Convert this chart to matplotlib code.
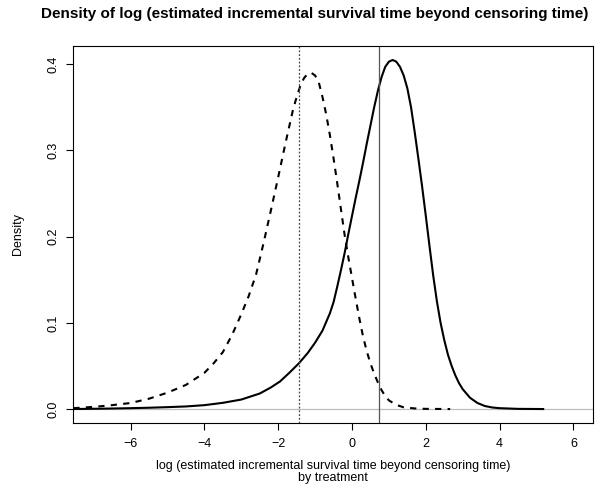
import matplotlib
matplotlib.use("Agg")
import matplotlib.pyplot as plt

plt.rcParams['font.family'] = ['Liberation Sans', 'DejaVu Sans']

# density of the dashed group
dashed_x = [-7.55, -7.0, -6.5, -6.0, -5.5, -5.0, -4.5, -4.0, -3.75, -3.5, -3.25,
            -3.0, -2.8, -2.6, -2.4, -2.2, -2.0, -1.8, -1.6, -1.5, -1.4, -1.3, -1.2,
            -1.1, -1.0, -0.9, -0.8, -0.7, -0.6, -0.5, -0.4, -0.3, -0.2, -0.1, 0.0,
            0.1, 0.2, 0.3, 0.4, 0.5, 0.6, 0.7, 0.8, 0.9, 1.0, 1.2, 1.4, 1.7, 2.0, 2.66]
dashed_y = [0.001, 0.0025, 0.0045, 0.007, 0.012, 0.019, 0.028, 0.042, 0.053, 0.066,
            0.086, 0.110, 0.131, 0.156, 0.192, 0.230, 0.269, 0.309, 0.347, 0.362,
            0.375, 0.384, 0.389, 0.390, 0.387, 0.379, 0.362, 0.342, 0.318, 0.291,
            0.262, 0.232, 0.202, 0.176, 0.152, 0.128, 0.105, 0.084, 0.067, 0.053,
            0.041, 0.031, 0.022, 0.015, 0.010, 0.0048, 0.002, 0.0007, 0.0002, 0.0]

# density of the solid group
solid_x = [-7.56, -7.0, -6.5, -6.0, -5.5, -5.0, -4.5, -4.0, -3.5, -3.0, -2.5, -2.2,
           -1.95, -1.7, -1.44, -1.2, -1.0, -0.8, -0.6, -0.5, -0.4, -0.3, -0.2, -0.1,
           0.0, 0.1, 0.2, 0.3, 0.4, 0.5, 0.6, 0.7, 0.8, 0.9, 1.0, 1.1, 1.2, 1.3, 1.4,
           1.5, 1.6, 1.7, 1.8, 1.9, 2.0, 2.1, 2.2, 2.3, 2.4, 2.5, 2.6, 2.7, 2.8, 2.9,
           3.0, 3.2, 3.4, 3.6, 3.8, 4.0, 4.5, 5.18]
solid_y = [0.0, 0.0003, 0.0006, 0.001, 0.0015, 0.0022, 0.003, 0.0045, 0.0072, 0.011,
           0.018, 0.025, 0.032, 0.042, 0.053, 0.065, 0.077, 0.091, 0.111, 0.124,
           0.142, 0.161, 0.181, 0.203, 0.224, 0.245, 0.265, 0.286, 0.308, 0.329,
           0.350, 0.369, 0.385, 0.397, 0.403, 0.405, 0.403, 0.397, 0.387, 0.372,
           0.350, 0.321, 0.290, 0.258, 0.224, 0.189, 0.155, 0.125, 0.100, 0.080,
           0.063, 0.050, 0.039, 0.030, 0.023, 0.013, 0.007, 0.0035, 0.0018, 0.001,
           0.0002, 0.0]

# vertical reference lines (medians)
median_dashed = -1.445
median_solid = 0.73

xticks = [-6, -4, -2, 0, 2, 4, 6]
yticks = [0.0, 0.1, 0.2, 0.3, 0.4]

fig = plt.figure(figsize=(6, 4.99), dpi=100)
ax = fig.add_axes([73/600, 1-423/499, 520/600, 377/499])

ax.axhline(0, color='#bebebe', lw=0.9)
ax.plot(solid_x, solid_y, color='black', lw=1.5)
ax.plot(dashed_x, dashed_y, color='black', lw=1.5, dashes=(3, 3))
ax.axvline(median_solid, color='#555555', lw=0.9)
ax.axvline(median_dashed, color='#444444', lw=0.9, dashes=(1.5, 1.5))

ax.set_xlim(-7.56, 6.53)
ax.set_ylim(-0.0162, 0.4212)
ax.set_xticks(xticks)
ax.set_xticklabels([str(t).replace('-', '\u2212') for t in xticks])
ax.set_yticks(yticks)
ax.set_yticklabels(['%.1f' % t for t in yticks], rotation=90, va='center')
ax.tick_params(direction='out', length=5, width=0.8, labelsize=9, pad=6)
ax.tick_params(axis='y', pad=5)
for s in ax.spines.values():
    s.set_linewidth(0.8)

fig.text(315/600, 1-14/499, 'Density of log (estimated incremental survival time beyond censoring time)',
         ha='center', va='center', fontsize=11, fontweight='bold')
fig.text(333/600, 1-472/499, 'log (estimated incremental survival time beyond censoring time)\nby treatment',
         ha='center', va='center', fontsize=9, linespacing=1.05)
fig.text(18/600, 1-234/499, 'Density', rotation=90, ha='center', va='center', fontsize=9)

plt.savefig('out.png', dpi=100)
